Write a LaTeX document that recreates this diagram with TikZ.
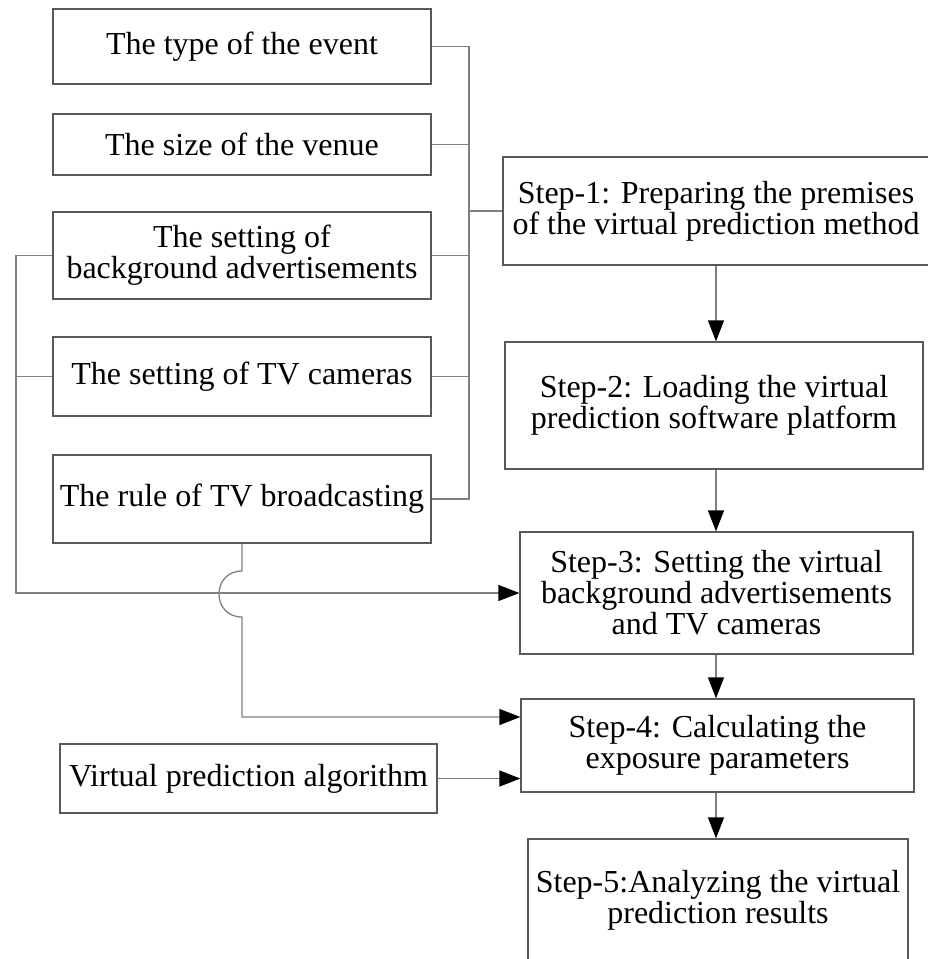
\documentclass[tikz,border=0pt]{standalone}
\usepackage{fontspec}
\setmainfont{Liberation Serif}
\usetikzlibrary{arrows.meta,calc}
\begin{document}
\begin{tikzpicture}[x=1pt,y=-1pt,
  boxstyle/.style={draw=black!65, line width=1.3pt, rectangle, inner sep=0pt, align=center,
     font=\fontsize{32}{31}\selectfont},
  conn/.style={draw=black!50, line width=1.3pt},
  arr/.style={conn, -{Triangle[length=21pt,width=16pt,color=black,fill=black]}}]
\useasboundingbox (0,0) rectangle (927,959);
\fill[white] (0,0) rectangle (927,959);

\node[boxstyle, minimum width=378pt, minimum height=75pt] (b1) at (242,46.5) {The type of the event};
\node[boxstyle, minimum width=378pt, minimum height=61pt] (b2) at (242,144.5) {The size of the venue};
\node[boxstyle, minimum width=378pt, minimum height=87pt] (b3) at (242,255.5) {The setting of\\background advertisements};
\node[boxstyle, minimum width=378pt, minimum height=79pt] (b4) at (242,376.5) {The setting of TV cameras};
\node[boxstyle, minimum width=378pt, minimum height=88pt] (b5) at (242,499) {The rule of TV broadcasting};
\node[boxstyle, minimum width=377pt, minimum height=69pt] (va) at (248.5,778.5) {Virtual prediction algorithm};

\node[boxstyle, minimum width=426pt, minimum height=108pt] (s1) at (716,211) {Step-1: Preparing the premises\\of the virtual prediction method};
\node[boxstyle, minimum width=418pt, minimum height=127pt] (s2) at (714,405.5) {Step-2: Loading the virtual\\prediction software platform};
\node[boxstyle, minimum width=393pt, minimum height=122pt] (s3) at (716.5,593) {Step-3: Setting the virtual\\background advertisements\\and TV cameras};
\node[boxstyle, minimum width=393pt, minimum height=93pt] (s4) at (717.5,745.5) {Step-4: Calculating the\\exposure parameters};
\node[boxstyle, minimum width=380pt, minimum height=122pt] (s5) at (718,900) {Step-5:Analyzing the virtual\\prediction results};

% bracket bus
\coordinate (bx) at (469,0);
\draw[conn] (b1.east) -- (b1.east -| bx) |- (b5.east);
\draw[conn] (b2.east) -- (b2.east -| bx);
\draw[conn] (b3.east) -- (b3.east -| bx);
\draw[conn] (b4.east) -- (b4.east -| bx);
\draw[conn] (bx |- s1.west) -- (s1.west);

% left bus to step 3
\coordinate (lx) at (16,0);
\draw[arr] (b3.west) -- (b3.west -| lx) |- (s3.west);
\draw[conn] (b4.west) -- (b4.west -| lx);

% box 5 down with jump to step 4
\coordinate (j1) at (242,571);
\coordinate (j2) at (242,617);
\draw[arr] (b5.south) -- (j1) .. controls (211.3,571) and (211.3,617) .. (j2) |- ([yshift=28.5pt]s4.west);

% algorithm to step 4
\draw[arr] (va.east) -- (va.east -| s4.west);

% main chain
\draw[arr] (s1.south) -- (s1.south |- s2.north);
\draw[arr] (s1.south |- s2.south) -- (s1.south |- s3.north);
\draw[arr] (s1.south |- s3.south) -- (s1.south |- s4.north);
\draw[arr] (s1.south |- s4.south) -- (s1.south |- s5.north);
\end{tikzpicture}
\end{document}
